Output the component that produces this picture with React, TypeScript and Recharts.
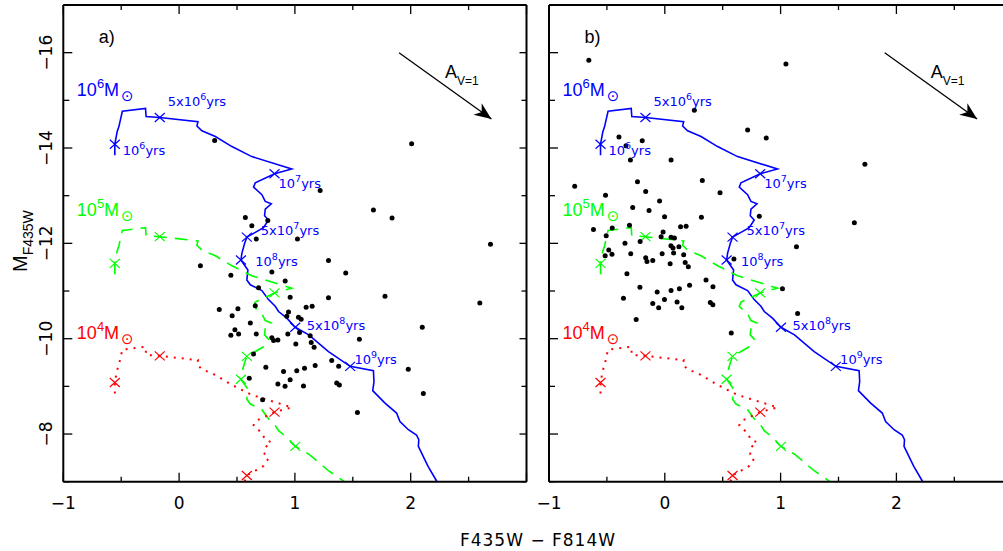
import React from 'react';
import { ComposedChart, Line, Scatter, XAxis, YAxis } from 'recharts';

const FONT = '"Liberation Sans", Arial, Helvetica, sans-serif';
const WIDE = '"DejaVu Sans", Verdana, sans-serif';
const BLUE = '#0000ff';
const GREEN = '#00ff00';
const RED = '#ff0000';

// ---------- axes ----------
const xTicks = [-1, -0.5, 0, 0.5, 1, 1.5, 2, 2.5, 3];
const xTickLabels = ['−1', '', '0', '', '1', '', '2', '', ''];
const yTicks = [-17, -16, -15, -14, -13, -12, -11, -10, -9, -8, -7];
const yTickLabels = ['', '−16', '', '−14', '', '−12', '', '−10', '', '−8', ''];
const xDomain = [-1, 3];
const yDomain = [-17, -7];
const xAxisTitle = 'F435W − F814W';

// ---------- evolutionary tracks (colour, magnitude) ----------
const trackX = [-0.555, -0.555, -0.535, -0.52, -0.49, -0.29, -0.285, -0.167, 0.163, 0.154, 0.197, 0.313, 0.456, 0.628, 0.973, 0.824, 0.658, 0.643, 0.715, 0.744, 0.796, 0.744, 0.738, 0.772, 0.729, 0.658, 0.585, 0.566, 0.542, 0.534, 0.594, 0.585, 0.615, 0.715, 0.772, 0.83, 0.859, 0.93, 1.003, 1.12, 1.29, 1.477, 1.678, 1.683, 1.672, 1.778, 1.878, 1.907, 1.98, 2.05, 2.07, 2.066, 2.108, 2.15, 2.22, 2.25];
const track1e6M = [-13.85, -14.08, -14.34, -14.45, -14.77, -14.83, -14.66, -14.64, -14.55, -14.46, -14.36, -14.24, -14.03, -13.82, -13.56, -13.46, -13.27, -13.18, -13.02, -12.88, -12.83, -12.72, -12.58, -12.49, -12.33, -12.23, -12.13, -12.0, -11.79, -11.65, -11.44, -11.23, -11.13, -11.01, -10.82, -10.68, -10.57, -10.43, -10.24, -10.08, -9.73, -9.42, -9.33, -9.1, -8.91, -8.65, -8.44, -8.26, -8.09, -7.98, -7.88, -7.74, -7.53, -7.32, -7.03, -6.9];
const track1e5M = [-11.35, -11.58, -11.84, -11.95, -12.27, -12.33, -12.16, -12.14, -12.05, -11.96, -11.86, -11.74, -11.53, -11.32, -11.06, -10.96, -10.77, -10.68, -10.52, -10.38, -10.33, -10.22, -10.08, -9.99, -9.83, -9.73, -9.63, -9.5, -9.29, -9.15, -8.94, -8.73, -8.63, -8.51, -8.32, -8.18, -8.07, -7.93, -7.74, -7.58, -7.23, -6.92, -6.83];
const track1e4M = [-8.85, -9.08, -9.34, -9.45, -9.77, -9.83, -9.66, -9.64, -9.55, -9.46, -9.36, -9.24, -9.03, -8.82, -8.56, -8.46, -8.27, -8.18, -8.02, -7.88, -7.83, -7.72, -7.58, -7.49, -7.33, -7.23, -7.13, -7.0, -6.79];

// age markers (crosses)
const cross1e6X = [-0.555, -0.167, 0.824, 0.585, 0.534, 1.003, 1.477];
const cross1e6M = [-14.08, -14.64, -13.46, -12.13, -11.65, -10.24, -9.42];
const cross1e5X = [-0.555, -0.167, 0.824, 0.585, 0.534, 1.003];
const cross1e5M = [-11.58, -12.14, -10.96, -9.63, -9.15, -7.74];
const cross1e4X = [-0.555, -0.167, 0.824, 0.585];
const cross1e4M = [-9.08, -9.64, -8.46, -7.13];

// age labels
const ageLabelX = [-0.486, -0.098, 0.859, 0.706, 0.658, 1.103, 1.514];
const ageLabelM = [-13.86, -14.88, -13.16, -12.18, -11.53, -10.19, -9.47];
const ageLabelPre = ['10', '5x10', '10', '5x10', '10', '5x10', '10'];
const ageLabelExp = ['6', '6', '7', '7', '8', '8', '9'];

// mass labels
const massLabelX = [-0.883, -0.883, -0.883];
const massLabelM = [-15.09, -12.57, -10.0];
const massLabelExp = ['6', '5', '4'];

// reddening vector
const arrowX = [1.899, 2.697];
const arrowM = [-16.0, -14.61];
const arrowLabelX = [2.296];
const arrowLabelM = [-15.46];

// panel letters
const panelLabelX = [-0.693];
const panelLabelM = [-16.2];
const panelNames = ['a)', 'b)'];

// ---------- clusters ----------
const panelADotX = [0.307, 1.218, 2.008, 1.678, 1.839, 2.689, 0.572, 0.766, 0.628, 0.666, 1.022, 1.29, 1.439, 1.29, 1.778, 2.597, 2.1, 1.557, 1.318, 1.378, 1.361, 1.384, 1.979, 2.109, 1.54, 0.184, 0.447, 0.801, 0.916, 0.686, 0.959, 0.347, 0.508, 0.658, 1.097, 1.149, 0.945, 0.93, 0.458, 1.031, 1.054, 0.615, 0.482, 0.514, 0.447, 0.666, 0.939, 1.04, 1.132, 0.801, 0.816, 0.853, 1.008, 1.141, 1.166, 0.643, 0.749, 1.083, 1.175, 1.016, 0.902, 0.606, 0.959, 0.853, 0.915, 1.074, 0.721];
const panelADotM = [-14.16, -13.11, -14.09, -12.7, -12.53, -11.98, -12.54, -12.48, -12.37, -12.09, -12.09, -11.64, -11.38, -10.86, -10.89, -10.75, -10.24, -9.99, -9.54, -9.42, -9.07, -9.03, -9.36, -8.85, -8.45, -11.53, -11.33, -11.4, -11.21, -11.07, -10.87, -10.61, -10.63, -10.69, -10.66, -10.68, -10.56, -10.47, -10.48, -10.45, -10.41, -10.33, -10.19, -10.1, -10.07, -10.1, -10.1, -10.13, -10.06, -10.02, -9.96, -9.97, -9.89, -9.92, -9.82, -9.68, -9.4, -9.38, -9.44, -9.33, -9.31, -9.17, -9.14, -9.05, -9.0, -9.01, -8.72];

const panelBDotX = [-0.656, 0.255, 0.715, 0.876, -0.396, -0.195, -0.335, -0.297, 0.054, -0.778, -0.236, 0.324, 0.477, -0.512, -0.165, -0.045, -0.277, -0.136, -0.002, 0.316, -0.616, -0.454, -0.305, -0.015, 0.136, 0.184, -0.032, -0.506, -0.213, 0.054, 0.083, -0.344, -0.484, -0.515, -0.456, -0.294, -0.023, 0.053, 0.071, 0.122, 0.076, 0.163, -0.165, -0.154, -0.104, 0.046, 0.176, 0.203, -0.327, 0.356, -0.215, -0.066, 0.054, 0.126, 0.214, 0.416, -0.357, -0.003, -0.104, 0.106, -0.053, 0.147, 0.393, 0.415, -0.247, 0.574, 1.046, 1.728, 0.816, 1.637, 1.137, 0.597, 1.016, 1.147];
const panelBDotM = [-15.84, -14.79, -14.38, -14.21, -14.23, -14.15, -14.05, -13.75, -13.75, -13.2, -13.29, -13.32, -13.06, -13.01, -13.09, -12.89, -12.75, -12.69, -12.56, -12.55, -12.29, -12.32, -12.38, -12.24, -12.35, -12.36, -12.14, -12.16, -12.04, -12.13, -12.11, -12.0, -11.86, -11.74, -11.77, -11.78, -11.78, -11.95, -11.9, -11.93, -11.8, -11.76, -11.7, -11.62, -11.64, -11.57, -11.6, -11.51, -11.36, -11.23, -11.08, -10.98, -11.01, -11.05, -11.12, -11.09, -10.85, -10.82, -10.74, -10.77, -10.65, -10.65, -10.76, -10.71, -10.4, -10.12, -15.76, -13.66, -12.57, -12.43, -11.93, -11.67, -11.05, -10.53];

// ---------- helpers ----------
const pts = (xs: number[], ys: number[]) => ys.map((y, i) => ({ x: xs[i], y }));

const massColors = [BLUE, GREEN, RED];

const BottomTick = (props: any) => {
  const { x, y, payload } = props;
  const i = xTicks.indexOf(payload.value);
  const major = Number.isInteger(payload.value);
  return (
    <g>
      <line x1={x} x2={x} y1={y} y2={y - (major ? 9 : 5)} stroke="#000" strokeWidth={1.3} />
      {xTickLabels[i] ? (
        <text x={x} y={y + 27.6} textAnchor="middle" fontSize={17} fontFamily={WIDE} fill="#000">
          {xTickLabels[i]}
        </text>
      ) : null}
    </g>
  );
};

const TopTick = (props: any) => {
  const { x, y, payload } = props;
  const major = Number.isInteger(payload.value);
  return <line x1={x} x2={x} y1={y} y2={y + (major ? 9 : 5)} stroke="#000" strokeWidth={1.3} />;
};

const LeftTick = (props: any) => {
  const { x, y, payload, showLabels } = props;
  const i = yTicks.indexOf(payload.value);
  const major = payload.value % 2 === 0;
  const lx = x - 11.6;
  return (
    <g>
      <line x1={x} x2={x + (major ? 9 : 6)} y1={y} y2={y} stroke="#000" strokeWidth={1.3} />
      {showLabels && yTickLabels[i] ? (
        <text x={lx} y={y} transform={`rotate(-90 ${lx} ${y})`} textAnchor="middle" fontSize={17} fontFamily={WIDE} fill="#000">
          {yTickLabels[i]}
        </text>
      ) : null}
    </g>
  );
};

const RightTick = (props: any) => {
  const { x, y, payload } = props;
  const major = payload.value % 2 === 0;
  return <line x1={x} x2={x - (major ? 7 : 5)} y1={y} y2={y} stroke="#000" strokeWidth={1.3} />;
};

const crossShape = (color: string) => (props: any) => {
  const { cx, cy } = props;
  return (
    <g stroke={color} strokeWidth={1.2}>
      <line x1={cx - 5} y1={cy - 4.5} x2={cx + 5} y2={cy + 4.5} />
      <line x1={cx - 5} y1={cy + 4.5} x2={cx + 5} y2={cy - 4.5} />
    </g>
  );
};

const dotShape = (props: any) => <circle cx={props.cx} cy={props.cy} r={2.5} fill="#000" />;

const ageLabelShape = (props: any) => {
  const { cx, cy, payload } = props;
  return (
    <text x={cx} y={cy} fill={BLUE} fontFamily={WIDE} fontSize={13}>
      {payload.pre}
      <tspan dy={-6} fontSize={9.5}>{payload.exp}</tspan>
      <tspan dy={6} fontSize={13}>yrs</tspan>
    </text>
  );
};

const massLabelShape = (props: any) => {
  const { cx, cy, payload } = props;
  const color = massColors[payload.i];
  return (
    <text x={cx} y={cy} fill={color} fontFamily={FONT} fontSize={18}>
      10
      <tspan dy={-8} fontSize={13}>{payload.exp}</tspan>
      <tspan dy={8} fontSize={18}>M</tspan>
      <tspan dx={2} dy={5} fontSize={15} fontFamily="DejaVu Sans">⊙</tspan>
    </text>
  );
};

const arrowLabelShape = (props: any) => (
  <text x={props.cx} y={props.cy} fill="#000" fontFamily={FONT} fontSize={18}>
    A<tspan dy={6.7} fontSize={12}>V=1</tspan>
  </text>
);

const makePanelLabelShape = (name: string) => (props: any) => (
  <text x={props.cx} y={props.cy} fill="#000" fontFamily={FONT} fontSize={18}>
    {name}
  </text>
);

const makeArrowDot = () => {
  const st = { x: 0, y: 0 };
  return (props: any) => {
    const { cx, cy, index } = props;
    if (index === 0) {
      st.x = cx;
      st.y = cy;
      return <g key={`ad${index}`} />;
    }
    const dx = cx - st.x;
    const dy = cy - st.y;
    const L = Math.hypot(dx, dy) || 1;
    const ux = dx / L, uy = dy / L;
    const nx = -uy, ny = ux;
    const len = 17, hw = 7, notch = 12;
    const p = [
      [cx, cy],
      [cx - ux * len + nx * hw, cy - uy * len + ny * hw],
      [cx - ux * notch, cy - uy * notch],
      [cx - ux * len - nx * hw, cy - uy * len - ny * hw],
    ];
    return <polygon key={`ad${index}`} points={p.map((q) => q.join(',')).join(' ')} fill="#000" />;
  };
};

const yTitle = (props: any) => {
  const vb = props.viewBox || { x: 62, y: 5, width: 1, height: 477 };
  const x = vb.x + (vb.width || 0) - 36.5;
  const y = 272;
  return (
    <text x={x} y={y} transform={`rotate(-90 ${x} ${y})`} fill="#000" fontFamily={FONT} fontSize={20}>
      M<tspan dy={6.5} fontSize={14}>F435W</tspan>
    </text>
  );
};

type PanelProps = {
  idx: number;
  width: number;
  margin: { top: number; right: number; bottom: number; left: number };
  dotX: number[];
  dotM: number[];
  showYTitle: boolean;
};

function Panel({ idx, width, margin, dotX, dotM, showYTitle }: PanelProps) {
  const t6 = pts(trackX, track1e6M);
  const t5 = pts(trackX, track1e5M);
  const t4 = pts(trackX, track1e4M);
  const ages = ageLabelX.map((x, i) => ({ x, y: ageLabelM[i], pre: ageLabelPre[i], exp: ageLabelExp[i] }));
  const masses = massLabelX.map((x, i) => ({ x, y: massLabelM[i], exp: massLabelExp[i], i }));
  const arrow = pts(arrowX, arrowM);
  const axisLine = { stroke: '#000', strokeWidth: 2 };
  return (
    <ComposedChart width={width} height={551} margin={margin}>
      <XAxis
        xAxisId={0}
        type="number"
        dataKey="x"
        domain={xDomain}
        ticks={xTicks}
        interval={0}
        allowDataOverflow
        height={1}
        tickSize={0}
        tickMargin={0}
        tickLine={false}
        axisLine={axisLine}
        tick={<BottomTick />}
      />
      <XAxis
        xAxisId="top"
        orientation="top"
        type="number"
        dataKey="x"
        domain={xDomain}
        ticks={xTicks}
        interval={0}
        allowDataOverflow
        height={1}
        tickSize={0}
        tickMargin={0}
        tickLine={false}
        axisLine={axisLine}
        tick={<TopTick />}
      />
      <YAxis
        yAxisId={0}
        type="number"
        dataKey="y"
        domain={yDomain}
        reversed
        ticks={yTicks}
        interval={0}
        allowDataOverflow
        width={1}
        tickSize={0}
        tickMargin={0}
        tickLine={false}
        axisLine={axisLine}
        tick={<LeftTick showLabels={showYTitle} />}
        label={showYTitle ? { content: yTitle } : undefined}
      />
      <YAxis
        yAxisId="right"
        orientation="right"
        type="number"
        dataKey="y"
        domain={yDomain}
        reversed
        ticks={yTicks}
        interval={0}
        allowDataOverflow
        width={1}
        tickSize={0}
        tickMargin={0}
        tickLine={false}
        axisLine={axisLine}
        tick={<RightTick />}
      />

      <Line data={t6} dataKey="y" stroke={BLUE} strokeWidth={1.6} dot={false} activeDot={false} isAnimationActive={false} />
      <Line data={t5} dataKey="y" stroke={GREEN} strokeWidth={1.6} strokeDasharray="13 8" dot={false} activeDot={false} isAnimationActive={false} />
      <Line data={t4} dataKey="y" stroke={RED} strokeWidth={2} strokeDasharray="2 6" dot={false} activeDot={false} isAnimationActive={false} />

      <Scatter data={pts(cross1e6X, cross1e6M)} shape={crossShape(BLUE)} isAnimationActive={false} />
      <Scatter data={pts(cross1e5X, cross1e5M)} shape={crossShape(GREEN)} isAnimationActive={false} />
      <Scatter data={pts(cross1e4X, cross1e4M)} shape={crossShape(RED)} isAnimationActive={false} />

      <Scatter data={pts(dotX, dotM)} shape={dotShape} isAnimationActive={false} />

      <Scatter data={ages} shape={ageLabelShape} isAnimationActive={false} />
      <Scatter data={masses} shape={massLabelShape} isAnimationActive={false} />

      <Line data={arrow} dataKey="y" stroke="#000" strokeWidth={1.3} dot={makeArrowDot()} activeDot={false} isAnimationActive={false} />
      <Scatter data={pts(arrowLabelX, arrowLabelM)} shape={arrowLabelShape} isAnimationActive={false} />
      <Scatter data={pts(panelLabelX, panelLabelM)} shape={makePanelLabelShape(panelNames[idx])} isAnimationActive={false} />
    </ComposedChart>
  );
}

export default function App() {
  return (
    <div style={{ position: 'absolute', left: 0, top: 0, width: 1003, height: 551, overflow: 'hidden', background: '#fff' }}>
      <div style={{ position: 'absolute', left: 0, top: 0 }}>
        <Panel
          idx={0}
          width={540}
          margin={{ top: 4, right: 12.5, bottom: 68.3, left: 62.3 }}
          dotX={panelADotX}
          dotM={panelADotM}
          showYTitle
        />
      </div>
      <div style={{ position: 'absolute', left: 530, top: 0 }}>
        <Panel
          idx={1}
          width={490}
          margin={{ top: 4, right: 6.8, bottom: 68.3, left: 18 }}
          dotX={panelBDotX}
          dotM={panelBDotM}
          showYTitle={false}
        />
      </div>
      <svg width={1003} height={551} style={{ position: 'absolute', left: 0, top: 0, pointerEvents: 'none' }}>
        <text x={538} y={546} textAnchor="middle" fontFamily={WIDE} fontSize={17} letterSpacing={1} fill="#000">
          {xAxisTitle}
        </text>
      </svg>
    </div>
  );
}
